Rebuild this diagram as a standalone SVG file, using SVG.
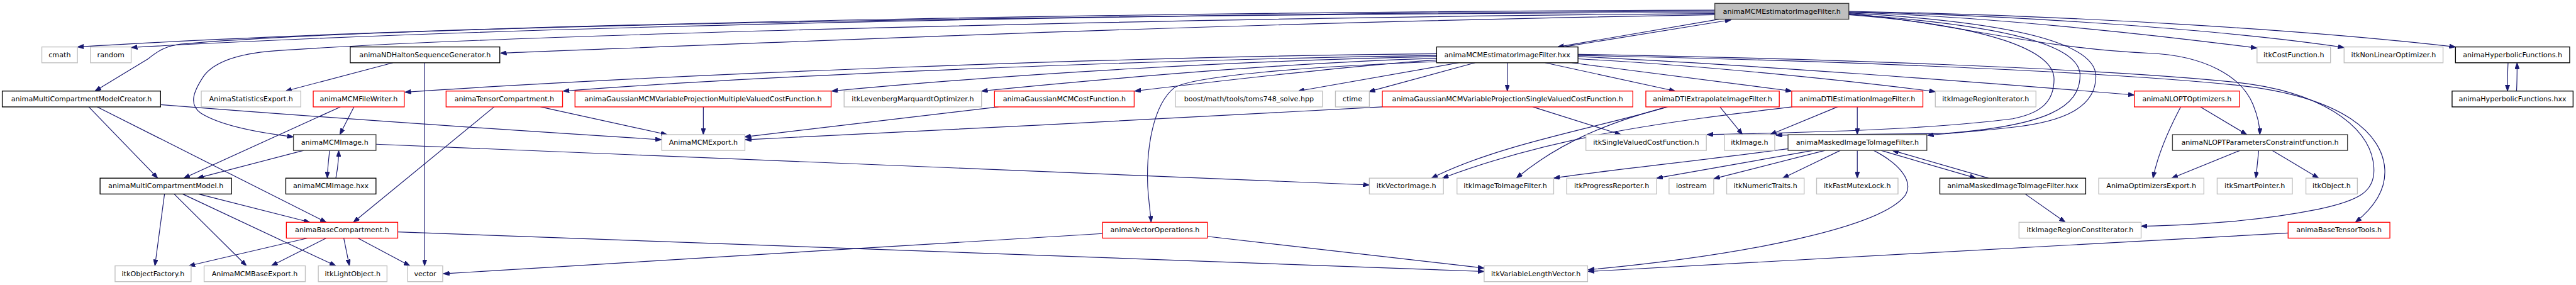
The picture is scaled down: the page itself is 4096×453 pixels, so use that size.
<svg xmlns="http://www.w3.org/2000/svg" width="4096" height="453" viewBox="0 0 4096 453">
<defs>
<marker id="arr" markerUnits="userSpaceOnUse" markerWidth="11" markerHeight="8" refX="11" refY="4" orient="auto" viewBox="0 0 11 8"><path d="M0,0 L11,4 L0,8 z" fill="#191970" stroke="#191970" stroke-width="1"/></marker>
<style>
.n rect{fill:#fff;stroke-width:1.5}
.k rect{stroke:#000}
.d rect{stroke:#404040}
.g rect{stroke:#bfbfbf}
.r rect{stroke:#ff0000}
.top rect{fill:#bfbfbf;stroke:#404040}
.n text{font-family:"DejaVu Sans","Liberation Sans",sans-serif;font-size:12.4px;text-anchor:middle;fill:#000}
#edges path{fill:none;stroke:#191970;stroke-width:1.3;marker-end:url(#arr)}
</style>
</defs>
<rect width="4096" height="453" fill="#fff"/>
<g transform="scale(0.899)">
<g id="edges">
<path d="M3033,18 C2300,20 900,36 137,83"/>
<path d="M3033,20 C2300,22 1000,40 232,84"/>
<path d="M3033,22 C2000,25 700,44 320,78 C295,81 282,88 262,104 L168,161"/>
<path d="M3033,24 C2200,30 900,60 485,90 C420,95 378,110 360,135 C340,165 335,185 355,200 C390,222 460,235 519,242"/>
<path d="M3033,26 C2200,40 1500,70 885,94"/>
<path d="M3040,34 L2755,83"/>
<path d="M2765,83 L3062,35"/>
<path d="M3270,20 C3700,28 4100,55 4343,83"/>
<path d="M3270,21 C3600,28 3950,55 4146,84"/>
<path d="M3270,22 C3500,28 3800,60 3992,85"/>
<path d="M3270,24 C3450,40 3600,85 3800,94 C3900,98 3965,135 3985,185 C3993,205 3997,220 3997,238"/>
<path d="M3270,26 C3520,45 3633,90 3633,140 C3633,180 3610,200 3560,210 C3400,230 3200,234 3019,238"/>
<path d="M3270,25 C3550,45 3679,80 3679,133 C3679,190 3620,222 3440,236 L3141,239"/>
<path d="M3270,23 C3580,40 3707,80 3707,135 C3707,190 3650,215 3560,225 C3500,232 3450,236 3409,239"/>
<path d="M2541,95 C2000,100 1200,130 716,163"/>
<path d="M2541,98 C2100,104 1400,130 996,161"/>
<path d="M2541,100 C2200,107 1800,130 1471,161"/>
<path d="M2541,103 C2300,110 2000,135 1736,161"/>
<path d="M2541,106 C2400,115 2200,138 2007,161"/>
<path d="M2541,109 C2300,118 2110,135 2077,155 C2040,185 2027,260 2030,330 C2032,360 2035,378 2036,393"/>
<path d="M2580,111 L2296,161"/>
<path d="M2609,111 L2421,162"/>
<path d="M2666,111 L2666,161"/>
<path d="M2733,111 L2963,161"/>
<path d="M2780,111 L3169,161"/>
<path d="M2791,104 C3000,115 3250,140 3423,162"/>
<path d="M2791,100 C3100,115 3500,145 3775,168"/>
<path d="M2791,96 C3200,103 3700,120 3950,145 C4100,160 4190,220 4198,290 C4205,340 4170,355 4100,370 C4000,390 3900,397 3787,400"/>
<path d="M2791,98 C3200,106 3700,125 3950,150 C4150,170 4215,240 4218,300 C4220,340 4195,370 4166,393"/>
<path d="M695,111 L505,161"/>
<path d="M751,111 L751,470"/>
<path d="M284,185 C600,210 900,230 1170,247"/>
<path d="M157,189 L279,315"/>
<path d="M172,189 L577,393"/>
<path d="M602,189 L325,315"/>
<path d="M626,189 L601,238"/>
<path d="M537,266 L349,315"/>
<path d="M583,266 C581,285 579,300 579,315"/>
<path d="M594,315 C597,300 599,285 599,266"/>
<path d="M665,255 L2422,327"/>
<path d="M874,189 L625,393"/>
<path d="M956,189 L1180,238"/>
<path d="M1244,189 L1244,238"/>
<path d="M1766,189 L1317,242"/>
<path d="M2445,189 C2250,200 1600,234 1318,247"/>
<path d="M2711,189 L2867,238"/>
<path d="M2949,189 C2830,225 2650,255 2532,315"/>
<path d="M2949,189 C2850,215 2760,250 2682,315"/>
<path d="M3042,189 L3082,238"/>
<path d="M3170,189 C2950,215 2750,240 2551,315"/>
<path d="M3250,189 L3131,238"/>
<path d="M3285,189 L3285,238"/>
<path d="M3163,263 C3000,285 2850,300 2748,315"/>
<path d="M3207,266 L2930,315"/>
<path d="M3228,266 L3031,316"/>
<path d="M3255,266 L3153,315"/>
<path d="M3285,266 L3285,315"/>
<path d="M3314,266 C3360,290 3385,320 3370,345 C3330,400 3100,450 2809,477"/>
<path d="M3327,266 L3495,315"/>
<path d="M3517,315 L3347,266"/>
<path d="M3582,343 L3653,393"/>
<path d="M3857,189 C3830,240 3815,280 3808,315"/>
<path d="M3892,189 L3974,238"/>
<path d="M3962,266 L3841,315"/>
<path d="M3995,266 L3990,315"/>
<path d="M4019,266 L4101,315"/>
<path d="M4436,111 C4435,130 4435,145 4435,161"/>
<path d="M4451,161 C4452,145 4452,130 4452,111"/>
<path d="M291,343 L274,470"/>
<path d="M308,343 L436,470"/>
<path d="M323,343 L594,470"/>
<path d="M351,343 L548,393"/>
<path d="M544,421 L334,470"/>
<path d="M577,421 L480,470"/>
<path d="M608,421 L618,470"/>
<path d="M633,421 L725,470"/>
<path d="M703,410 L2625,480"/>
<path d="M1950,413 L784,484"/>
<path d="M2135,418 L2625,474"/>
<path d="M4047,412 L2809,480"/>
</g>
<g id="n1" class="n top"><rect x="3033" y="6" width="237" height="28"/><text x="3151.5" y="24">animaMCMEstimatorImageFilter.h</text></g>
<g id="n2" class="n g"><rect x="74" y="83" width="63" height="28"/><text x="105.5" y="101">cmath</text></g>
<g id="n3" class="n g"><rect x="160" y="83" width="72" height="28"/><text x="196" y="101">random</text></g>
<g id="n4" class="n k"><rect x="619.5" y="83" width="264.5" height="28"/><text x="751.75" y="101">animaNDHaltonSequenceGenerator.h</text></g>
<g id="n5" class="n k"><rect x="2541" y="83" width="250" height="28"/><text x="2666" y="101">animaMCMEstimatorImageFilter.hxx</text></g>
<g id="n6" class="n g"><rect x="3992" y="83" width="130" height="28"/><text x="4057" y="101">itkCostFunction.h</text></g>
<g id="n7" class="n g"><rect x="4146" y="83" width="175" height="28"/><text x="4233.5" y="101">itkNonLinearOptimizer.h</text></g>
<g id="n8" class="n k"><rect x="4343" y="83" width="202" height="28"/><text x="4444" y="101">animaHyperbolicFunctions.h</text></g>
<g id="n9" class="n k"><rect x="4" y="161" width="280" height="28"/><text x="144" y="179">animaMultiCompartmentModelCreator.h</text></g>
<g id="n10" class="n g"><rect x="356" y="161" width="176" height="28"/><text x="444" y="179">AnimaStatisticsExport.h</text></g>
<g id="n11" class="n r"><rect x="554" y="161" width="161" height="28"/><text x="634.5" y="179">animaMCMFileWriter.h</text></g>
<g id="n12" class="n r"><rect x="789" y="161" width="206" height="28"/><text x="892" y="179">animaTensorCompartment.h</text></g>
<g id="n13" class="n r"><rect x="1017" y="161" width="453" height="28"/><text x="1243.5" y="179">animaGaussianMCMVariableProjectionMultipleValuedCostFunction.h</text></g>
<g id="n14" class="n g"><rect x="1493" y="161" width="243" height="28"/><text x="1614.5" y="179">itkLevenbergMarquardtOptimizer.h</text></g>
<g id="n15" class="n r"><rect x="1759" y="161" width="247" height="28"/><text x="1882.5" y="179">animaGaussianMCMCostFunction.h</text></g>
<g id="n16" class="n g"><rect x="2079" y="161" width="260" height="28"/><text x="2209" y="179">boost/math/tools/toms748_solve.hpp</text></g>
<g id="n17" class="n g"><rect x="2362" y="161" width="60" height="28"/><text x="2392" y="179">ctime</text></g>
<g id="n18" class="n r"><rect x="2445" y="161" width="443" height="28"/><text x="2666.5" y="179">animaGaussianMCMVariableProjectionSingleValuedCostFunction.h</text></g>
<g id="n19" class="n r"><rect x="2911" y="161" width="236" height="28"/><text x="3029" y="179">animaDTIExtrapolateImageFilter.h</text></g>
<g id="n20" class="n r"><rect x="3169" y="161" width="232" height="28"/><text x="3285" y="179">animaDTIEstimationImageFilter.h</text></g>
<g id="n21" class="n g"><rect x="3423" y="161" width="178" height="28"/><text x="3512" y="179">itkImageRegionIterator.h</text></g>
<g id="n22" class="n r"><rect x="3775" y="161" width="186" height="28"/><text x="3868" y="179">animaNLOPTOptimizers.h</text></g>
<g id="n23" class="n k"><rect x="4337" y="161" width="214" height="28"/><text x="4444" y="179">animaHyperbolicFunctions.hxx</text></g>
<g id="n24" class="n d"><rect x="519" y="238" width="146" height="28"/><text x="592" y="256">animaMCMImage.h</text></g>
<g id="n25" class="n g"><rect x="1170.5" y="238" width="147" height="28"/><text x="1244" y="256">AnimaMCMExport.h</text></g>
<g id="n26" class="n g"><rect x="2805" y="238" width="213" height="28"/><text x="2911.5" y="256">itkSingleValuedCostFunction.h</text></g>
<g id="n27" class="n g"><rect x="3050" y="238" width="89" height="28"/><text x="3094.5" y="256">itkImage.h</text></g>
<g id="n28" class="n d"><rect x="3162.5" y="238" width="245.5" height="28"/><text x="3285.25" y="256">animaMaskedImageToImageFilter.h</text></g>
<g id="n29" class="n d"><rect x="3842.5" y="238" width="309.5" height="28"/><text x="3997.25" y="256">animaNLOPTParametersConstraintFunction.h</text></g>
<g id="n30" class="n k"><rect x="177" y="315" width="232.5" height="28"/><text x="293.25" y="333">animaMultiCompartmentModel.h</text></g>
<g id="n31" class="n k"><rect x="505.5" y="315" width="159.5" height="28"/><text x="585.25" y="333">animaMCMImage.hxx</text></g>
<g id="n32" class="n g"><rect x="2422" y="315" width="131" height="28"/><text x="2487.5" y="333">itkVectorImage.h</text></g>
<g id="n33" class="n g"><rect x="2577" y="315" width="171" height="28"/><text x="2662.5" y="333">itkImageToImageFilter.h</text></g>
<g id="n34" class="n g"><rect x="2771" y="315" width="159" height="28"/><text x="2850.5" y="333">itkProgressReporter.h</text></g>
<g id="n35" class="n g"><rect x="2952" y="315" width="79" height="28"/><text x="2991.5" y="333">iostream</text></g>
<g id="n36" class="n g"><rect x="3054" y="315" width="137" height="28"/><text x="3122.5" y="333">itkNumericTraits.h</text></g>
<g id="n37" class="n g"><rect x="3213" y="315" width="144" height="28"/><text x="3285" y="333">itkFastMutexLock.h</text></g>
<g id="n38" class="n k"><rect x="3431" y="315" width="258" height="28"/><text x="3560" y="333">animaMaskedImageToImageFilter.hxx</text></g>
<g id="n39" class="n g"><rect x="3712" y="315" width="186" height="28"/><text x="3805" y="333">AnimaOptimizersExport.h</text></g>
<g id="n40" class="n g"><rect x="3921.5" y="315" width="133" height="28"/><text x="3988" y="333">itkSmartPointer.h</text></g>
<g id="n41" class="n g"><rect x="4078.5" y="315" width="91" height="28"/><text x="4124" y="333">itkObject.h</text></g>
<g id="n42" class="n r"><rect x="506.5" y="393" width="197" height="28"/><text x="605" y="411">animaBaseCompartment.h</text></g>
<g id="n43" class="n r"><rect x="1950" y="393" width="185.5" height="28"/><text x="2042.75" y="411">animaVectorOperations.h</text></g>
<g id="n44" class="n g"><rect x="3571" y="393" width="216" height="28"/><text x="3679" y="411">itkImageRegionConstIterator.h</text></g>
<g id="n45" class="n r"><rect x="4047" y="393" width="180" height="28"/><text x="4137" y="411">animaBaseTensorTools.h</text></g>
<g id="n46" class="n g"><rect x="203.5" y="470" width="134.5" height="28"/><text x="270.75" y="488">itkObjectFactory.h</text></g>
<g id="n47" class="n g"><rect x="361" y="470" width="179" height="28"/><text x="450.5" y="488">AnimaMCMBaseExport.h</text></g>
<g id="n48" class="n g"><rect x="563" y="470" width="121.5" height="28"/><text x="623.75" y="488">itkLightObject.h</text></g>
<g id="n49" class="n g"><rect x="721" y="470" width="62" height="28"/><text x="752" y="488">vector</text></g>
<g id="n50" class="n g"><rect x="2625" y="470" width="183" height="28"/><text x="2716.5" y="488">itkVariableLengthVector.h</text></g>
</g>
</svg>
